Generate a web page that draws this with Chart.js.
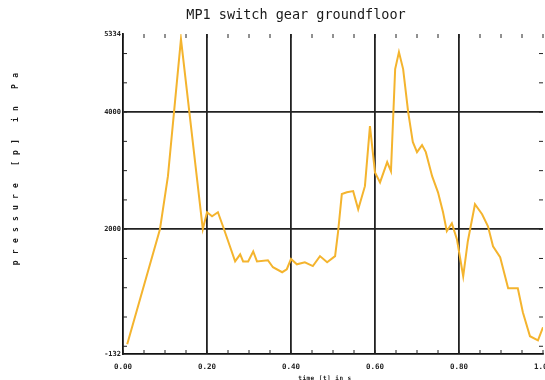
<!DOCTYPE html>
<html>
<head>
<meta charset="utf-8">
<script src="https://cdn.jsdelivr.net/npm/chart.js@4.4.0/dist/chart.umd.min.js"></script>
<style>
  html, body { margin: 0; padding: 0; background: #fff; }
  canvas { display: block; }
</style>
</head>
<body>
<canvas id="myChart" width="545" height="380"></canvas>
<script>
// chart texts
let chartTitle = 'MP1 switch gear groundfloor';
let yTitle = 'pressure [p] in Pa';
let xTitle = 'time [t] in s';

// time in s
let times = [0.010, 0.088, 0.107, 0.138, 0.190, 0.200, 0.212, 0.226, 0.238, 0.267,
    0.279, 0.286, 0.298, 0.310, 0.319, 0.345, 0.357, 0.379, 0.390, 0.400,
    0.414, 0.433, 0.452, 0.469, 0.486, 0.505, 0.512, 0.521, 0.533, 0.548,
    0.560, 0.576, 0.588, 0.600, 0.612, 0.629, 0.638, 0.648, 0.657, 0.667,
    0.679, 0.690, 0.700, 0.712, 0.721, 0.736, 0.750, 0.762, 0.771, 0.783,
    0.795, 0.810, 0.821, 0.838, 0.855, 0.869, 0.881, 0.898, 0.917, 0.940,
    0.952, 0.969, 0.988, 1.000];

// pressure in Pa
let pressure = [34, 2000, 2906, 5248, 2000, 2290, 2220, 2290, 2050, 1450,
    1570, 1450, 1450, 1620, 1450, 1470, 1350, 1265, 1316, 1490,
    1400, 1435, 1370, 1540, 1435, 1540, 1950, 2600, 2630, 2650,
    2340, 2735, 3760, 2970, 2800, 3145, 2990, 4735, 5025, 4735,
    4000, 3490, 3316, 3436, 3316, 2906, 2630, 2290, 1966, 2100,
    1830, 1197, 1795, 2427, 2256, 2050, 1709, 1521, 990, 990,
    581, 171, 100, 325];

// axis ticks
let xLabelTicks = [0, 0.2, 0.4, 0.6, 0.8, 1.0];
let yLabelTicks = [-132, 2000, 4000, 5334];
let yGridTicks = [2000, 4000];
let yMinorTicks = [0, 500, 1000, 1500, 2000, 2500, 3000, 3500, 4000, 4500, 5000];

let points = times.map((t, i) => ({ x: t, y: pressure[i] }));

function isMajorX(v) {
    return xLabelTicks.some(m => Math.abs(m - v) < 1e-6);
}

// small ticks pointing into the plot, on all four sides
let innerTicks = {
    id: 'innerTicks',
    beforeDatasetsDraw(chart) {
        let ctx = chart.ctx;
        let a = chart.chartArea;
        let xs = chart.scales.x;
        let ys = chart.scales.y;
        ctx.save();
        ctx.strokeStyle = '#222';
        ctx.lineWidth = 1;
        ctx.beginPath();
        xs.ticks.forEach(t => {
            let px = xs.getPixelForValue(t.value);
            ctx.moveTo(px, a.bottom);
            ctx.lineTo(px, a.bottom - 4);
            ctx.moveTo(px, a.top);
            ctx.lineTo(px, a.top + 4);
        });
        yMinorTicks.forEach(v => {
            let py = ys.getPixelForValue(v);
            ctx.moveTo(a.left, py);
            ctx.lineTo(a.left + 4, py);
            ctx.moveTo(a.right, py);
            ctx.lineTo(a.right - 4, py);
        });
        ctx.stroke();
        ctx.restore();
    }
};

// title and axis titles in the plotter style
let texts = {
    id: 'texts',
    afterDraw(chart) {
        let ctx = chart.ctx;
        ctx.save();
        ctx.fillStyle = '#1a1a1a';
        ctx.textAlign = 'center';
        ctx.textBaseline = 'middle';
        ctx.font = '13.5px "DejaVu Sans Mono"';
        ctx.fillText(chartTitle, 296, 15);

        ctx.font = 'bold 6px "DejaVu Sans Mono"';
        ctx.letterSpacing = '0.5px';
        ctx.fillText(xTitle, 325, 378);

        ctx.translate(16, 169);
        ctx.rotate(-Math.PI / 2);
        ctx.font = 'bold 8px "DejaVu Sans Mono"';
        ctx.letterSpacing = '6.2px';
        ctx.fillText(yTitle, 3, 0);
        ctx.restore();
    }
};

let myChart = new Chart(document.getElementById('myChart'), {
    type: 'line',
    data: {
        datasets: [{
            data: points,
            borderColor: '#F4B42E',
            borderWidth: 2,
            pointRadius: 0,
            tension: 0,
            fill: false
        }]
    },
    options: {
        responsive: false,
        animation: false,
        layout: {
            padding: { top: 34, right: 2, left: 0, bottom: 0 }
        },
        plugins: {
            legend: { display: false },
            tooltip: { enabled: false },
            title: { display: false }
        },
        scales: {
            x: {
                type: 'linear',
                min: 0,
                max: 1,
                ticks: {
                    stepSize: 0.05,
                    autoSkip: false,
                    maxRotation: 0,
                    padding: 9,
                    color: '#222',
                    font: { family: 'DejaVu Sans Mono', size: 7.5, weight: 'bold' },
                    callback: v => isMajorX(v) ? v.toFixed(2) : ''
                },
                grid: {
                    drawTicks: false,
                    lineWidth: 1.8,
                    color: c => (c.tick && isMajorX(c.tick.value) && c.tick.value > 0.01 && c.tick.value < 0.99) ? '#222' : 'rgba(0,0,0,0)'
                },
                border: { color: '#111', width: 1.8 },
                afterFit: s => {
                    s.height = 26;
                    s.paddingLeft = 0;
                    s.paddingRight = 0;
                }
            },
            y: {
                min: -132,
                max: 5334,
                afterBuildTicks: s => {
                    s.ticks = yLabelTicks.map(v => ({ value: v }));
                },
                ticks: {
                    padding: 2,
                    color: '#222',
                    font: { family: 'DejaVu Sans Mono', size: 7, weight: 'bold' },
                    callback: v => String(v)
                },
                grid: {
                    drawTicks: false,
                    lineWidth: 1.8,
                    color: c => (c.tick && yGridTicks.includes(c.tick.value)) ? '#222' : 'rgba(0,0,0,0)'
                },
                border: { color: '#111', width: 1.8 },
                afterFit: s => {
                    s.width = 123;
                    s.paddingTop = 0;
                    s.paddingBottom = 0;
                }
            }
        }
    },
    plugins: [innerTicks, texts]
});
</script>
</body>
</html>
